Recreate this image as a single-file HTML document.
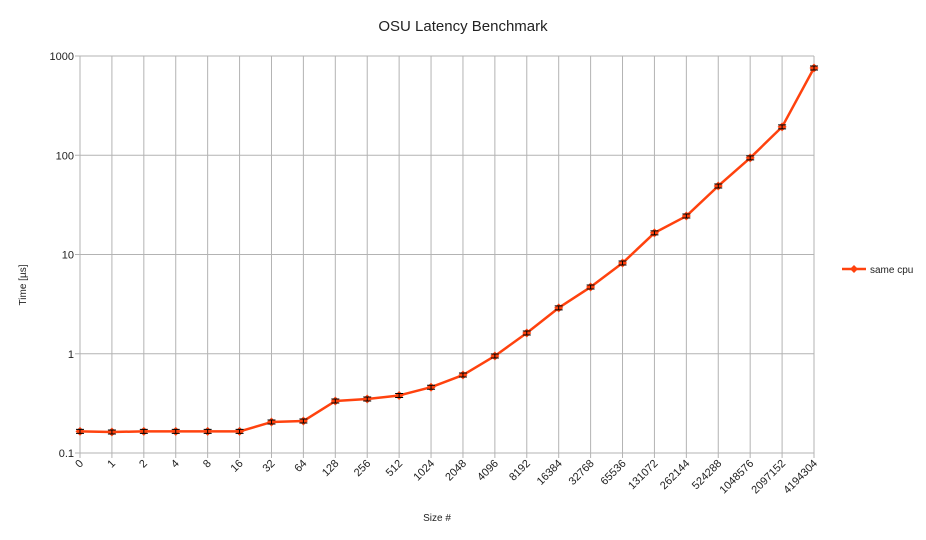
<!DOCTYPE html>
<html><head><meta charset="utf-8"><style>body{margin:0;background:#fff}svg{display:block;font-family:"Liberation Sans",sans-serif}</style></head>
<body>
<svg id="c" width="926" height="540">
<text x="463" y="31" font-size="15" text-anchor="middle" fill="#222">OSU Latency Benchmark</text>
<text transform="translate(26,285) rotate(-90)" font-size="10" text-anchor="middle" fill="#222">Time [µs]</text>
<text x="437" y="521" font-size="10" text-anchor="middle" fill="#222">Size #</text>
<g id="grid"></g><g id="series"></g>
<g>
<line x1="842" y1="269" x2="866" y2="269" stroke="#ff420e" stroke-width="2.5"/>
<path d="M854 265 L858 269 L854 273 L850 269Z" fill="#ff420e"/>
<text x="870" y="273" font-size="10" fill="#222">same cpu</text>
</g>
</svg>
<script>
const categories=["0","1","2","4","8","16","32","64","128","256","512","1024","2048","4096","8192","16384","32768","65536","131072","262144","524288","1048576","2097152","4194304"];
const latency=[0.165,0.163,0.165,0.165,0.165,0.165,0.205,0.21,0.334,0.35,0.38,0.46,0.61,0.95,1.62,2.9,4.7,8.2,16.5,24.4,49,94,193,757];
const yTicks=[0.1,1,10,100,1000];
const yTickLabels=["0.1","1","10","100","1000"];
const NS="http://www.w3.org/2000/svg";
const X0=80,X1=814,Y0=453,Y1=56;
function xs(i){return X0+i*(X1-X0)/(categories.length-1);}
function ys(v){return Y0-(Math.log10(v)-Math.log10(0.1))/(4)*(Y0-Y1);}
function mk(t,a,p){const e=document.createElementNS(NS,t);for(const k in a)e.setAttribute(k,a[k]);p.appendChild(e);return e;}
const g=document.getElementById('grid'),s=document.getElementById('series');
yTicks.forEach((v,i)=>{const y=ys(v);
const l=mk('line',{x1:X0-5,x2:X1,y1:y,y2:y,stroke:'#b3b3b3'},g);


const t=mk('text',{x:X0-6,y:y+4,'font-size':11,'text-anchor':'end',fill:'#222'},g);t.textContent=yTickLabels[i];

});
categories.forEach((c,i)=>{const x=xs(i);
const l=mk('line',{x1:x,x2:x,y1:Y1,y2:Y0+5,stroke:'#b3b3b3'},g);


const t=mk('text',{transform:`translate(${x+4},${Y0+11}) rotate(-45)`,'font-size':11,'text-anchor':'end',fill:'#222'},g);t.textContent=c;

});
const pl=mk('polyline',{points:latency.map((v,i)=>xs(i)+','+ys(v)).join(' '),fill:'none',stroke:'#ff420e','stroke-width':2.5,'stroke-linejoin':'round'},s);


latency.forEach((v,i)=>{const x=xs(i),y=ys(v);
const p=mk('path',{d:`M${x} ${y-4.5}L${x+4.5} ${y}L${x} ${y+4.5}L${x-4.5} ${y}Z`,fill:'#ff420e'},s);


mk('path',{d:`M${x-4} ${y-2}H${x+4}M${x} ${y-2}V${y+2}M${x-4} ${y+2}H${x+4}`,stroke:'#000','stroke-width':1},s);});
</script>
</body></html>
